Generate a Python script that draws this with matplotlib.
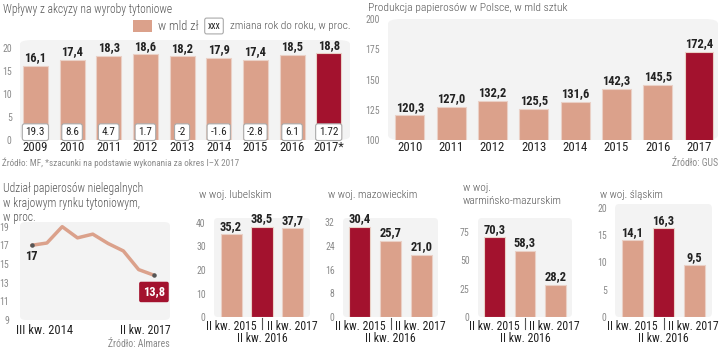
import matplotlib
matplotlib.use('Agg')
import matplotlib.pyplot as plt
from matplotlib.patches import FancyBboxPatch, Rectangle

# Data
tax_years = ['2009', '2010', '2011', '2012', '2013', '2014', '2015', '2016', '2017*']
tax_values = [16.1, 17.4, 18.3, 18.6, 18.2, 17.9, 17.4, 18.5, 18.8]
tax_change = ['19.3', '8.6', '4.7', '1.7', '-2', '-1.6', '-2.8', '6.1', '1.72']

prod_years = ['2010', '2011', '2012', '2013', '2014', '2015', '2016', '2017']
prod_values = [120.3, 127.0, 132.2, 125.5, 131.6, 142.3, 145.5, 172.4]

illegal_share = [17.0, 17.25, 19.0, 17.8, 18.2, 17.2, 16.4, 14.4, 13.8]
illegal_labels = ['III kw. 2014', 'II kw. 2017']

quarters = ['II kw. 2015', 'II kw. 2016', 'II kw. 2017']
lubelskie = [35.2, 38.5, 37.7]
mazowieckie = [30.4, 25.7, 21.0]
warm_maz = [70.3, 58.3, 28.2]
slaskie = [14.1, 16.3, 9.5]

SALMON = '#dba18b'
DARK = '#a3122e'
BG = '#f3f3f3'
TXT = '#222222'
GREY = '#8a8a8a'
TITLE = '#555555'

W, H = 720, 350
plt.rcParams['font.family'] = ['Roboto Condensed', 'DejaVu Sans']
fig = plt.figure(figsize=(7.2, 3.5), dpi=100)
renderer = fig.canvas.get_renderer()


def box(x0, y0, x1, y1):
    return [x0 / W, 1 - y1 / H, (x1 - x0) / W, (y1 - y0) / H]


def size_for(s, width, weight='normal', base=10.0):
    # font size that makes the widest line of s about `width` pixels wide
    t = fig.text(0, 0, s, fontsize=base, fontweight=weight)
    w = t.get_window_extent(renderer).width
    t.remove()
    return base * width / w


def ftext(x, y, s, width=None, **kw):
    if width is not None:
        kw['fontsize'] = size_for(s, width, kw.get('fontweight', 'normal'))
    fig.text(x / W, 1 - y / H, s, **kw)


def fmt(v):
    return f'{v:.1f}'.replace('.', ',')


def panel(ax):
    ax.patch.set_visible(False)
    for s in ax.spines.values():
        s.set_visible(False)
    bg = FancyBboxPatch((0, 0), 1, 1, boxstyle='round,pad=0,rounding_size=0.04',
                        transform=ax.transAxes, facecolor=BG, edgecolor='none',
                        zorder=0, clip_on=False)
    ax.add_patch(bg)
    ax.tick_params(axis='y', length=0, labelsize=7, labelcolor=GREY, pad=6)
    ax.tick_params(axis='x', length=0)


VAL = size_for('18,8', 22, 'bold')
YEAR = size_for('2009', 25)
QTR = size_for('II kw. 2015', 50)

# ---- top left: excise revenue
ax1 = fig.add_axes(box(20, 40, 350, 140))
panel(ax1)
colors = [SALMON] * (len(tax_values) - 1) + [DARK]
x = list(range(len(tax_values)))
ax1.bar(x, tax_values, width=0.68, color=colors, edgecolor='#ead0c6', linewidth=0.8, zorder=2)
ax1.set_xlim(-0.42, 8.58)
ax1.set_ylim(0, 21.7)
ax1.set_yticks([0, 5, 10, 15, 20])
ax1.set_xticks(x)
ax1.set_xticklabels(tax_years, fontsize=YEAR, color=TXT)
ax1.tick_params(axis='x', pad=1)
for i, v in enumerate(tax_values):
    ax1.text(i, v + 0.3, fmt(v), ha='center', va='bottom', fontsize=VAL,
             fontweight='bold', color=TXT, zorder=3)
    ax1.text(i, 1.7, tax_change[i], ha='center', va='center', fontsize=8, color=TXT, zorder=3,
             bbox=dict(boxstyle='round,pad=0.3,rounding_size=0.2', fc='white', ec='#aaaaaa', lw=0.8))

ftext(3, 9, 'Wpływy z akcyzy na wyroby tytoniowe', width=169, color=TITLE, va='center', fontweight='light')
fig.patches.append(Rectangle((133 / W, 1 - 32 / H), 19 / W, 12 / H, transform=fig.transFigure,
                             facecolor=SALMON, edgecolor='none'))
ftext(158, 26, 'w mld zł', fontsize=9, color=TITLE, va='center', fontweight='light')
ftext(214, 26, 'xxx', fontsize=7, color=TXT, va='center', ha='center',
      bbox=dict(boxstyle='round,pad=0.3,rounding_size=0.2', fc='white', ec='#aaaaaa', lw=0.8))
ftext(230, 26, 'zmiana rok do roku, w proc.', width=120, color=TITLE, va='center', fontweight='light')
ftext(2, 163, 'Źródło: MF, *szacunki na podstawie wykonania za okres I–X 2017',
      width=235, color=GREY, va='center')

# ---- top right: cigarette production
ax2 = fig.add_axes(box(388, 19, 718, 140))
panel(ax2)
colors = [SALMON] * (len(prod_values) - 1) + [DARK]
x = list(range(len(prod_values)))
ax2.bar(x, prod_values, width=0.7, color=colors, edgecolor='#ead0c6', linewidth=0.8, zorder=2)
ax2.set_xlim(-0.53, 7.46)
ax2.set_ylim(100, 200)
ax2.set_yticks([100, 125, 150, 175, 200])
ax2.set_xticks(x)
ax2.set_xticklabels(prod_years, fontsize=YEAR, color=TXT)
ax2.tick_params(axis='x', pad=1)
ax2.tick_params(axis='y', pad=6)
for i, v in enumerate(prod_values):
    ax2.text(i, v + 1.5, fmt(v), ha='center', va='bottom', fontsize=VAL,
             fontweight='bold', color=TXT, zorder=3)
ftext(368, 8, 'Produkcja papierosów w Polsce, w mld sztuk', width=199, color=TITLE,
      va='center', fontweight='light')
ftext(718, 163, 'Źródło: GUS', fontsize=7, color=GREY, va='center', ha='right')

# ---- bottom left: illegal share line
ax3 = fig.add_axes(box(20, 222, 170, 320))
panel(ax3)
xi = list(range(len(illegal_share)))
ax3.plot(xi, illegal_share, color=SALMON, lw=2.5, zorder=2, solid_capstyle='round')
ax3.scatter([xi[0], xi[-1]], [illegal_share[0], illegal_share[-1]], s=5, color='#555555', zorder=3)
ax3.set_xlim(-0.76, 9.05)
ax3.set_ylim(9, 19.5)
ax3.set_yticks([9, 11, 13, 15, 17, 19])
ax3.tick_params(axis='y', pad=8)
ax3.set_xticks([])
ax3.text(xi[0], illegal_share[0] - 0.5, '17', ha='center', va='top', fontsize=VAL,
         fontweight='bold', color=TXT, zorder=3)
ax3.text(xi[-1], illegal_share[-1] - 1.1, fmt(illegal_share[-1]), ha='center', va='top', fontsize=VAL,
         fontweight='bold', color='white', zorder=3,
         bbox=dict(boxstyle='round,pad=0.3,rounding_size=0.15', fc=DARK, ec='none'))
ftext(3, 182, 'Udział papierosów nielegalnych\nw krajowym rynku tytoniowym,\nw proc.',
      width=140, color=TITLE, va='top', linespacing=1.15, fontweight='light')
ftext(45, 331, illegal_labels[0], width=56, color=TXT, ha='center', va='center')
ftext(145, 331, illegal_labels[1], width=50, color=TXT, ha='center', va='center')
ftext(170, 344, 'Źródło: Almares', fontsize=7, color=GREY, ha='right', va='center')

# ---- bottom: four small regional panels
regions = [
    ('w woj. lubelskim', lubelskie, [0, 10, 20, 30, 40], 40, 223, (214, 310), 199, 195, 73),
    ('w woj. mazowieckim', mazowieckie, [0, 8, 16, 24, 32], 32, 222, (343, 438), 328, 195, 90),
    ('w woj.\nwarmińsko-mazurskim', warm_maz, [0, 25, 50, 75], 75, 232, (478, 572), 463, 183, 100),
    ('w woj. śląskim', slaskie, [0, 5, 10, 15, 20], 20, 208, (615, 712), 600, 195, 63),
]
for title, vals, ticks, top_tick, top_px, (xl, xr), tx, ty, tw in regions:
    zero_px = 317
    per = (zero_px - top_px) / top_tick
    top_bg = min(top_px - 4, 218)
    ax = fig.add_axes(box(xl, top_bg, xr, zero_px))
    panel(ax)
    hi = vals.index(max(vals))
    cols = [DARK if i == hi else SALMON for i in range(len(vals))]
    ax.bar(range(3), vals, width=0.68, color=cols, edgecolor='#ead0c6', linewidth=0.8, zorder=2)
    ax.set_xlim(-0.55, 2.55)
    ax.set_ylim(0, (zero_px - top_bg) / per)
    ax.set_yticks(ticks)
    ax.set_xticks([])
    for i, v in enumerate(vals):
        ax.text(i, v + 1.5 / per, fmt(v), ha='center', va='bottom', fontsize=VAL,
                fontweight='bold', color=TXT, zorder=3)
    ftext(tx, ty, title, width=tw, color=TITLE, va='center' if '\n' not in title else 'top',
          linespacing=1.35, fontweight='light')
    c0 = xl + (0 + 0.55) / 3.1 * (xr - xl)
    c1 = xl + (1 + 0.55) / 3.1 * (xr - xl)
    c2 = xl + (2 + 0.55) / 3.1 * (xr - xl)
    ftext(c0, 326, quarters[0], fontsize=QTR, color=TXT, ha='center', va='center')
    ftext(c2 - 1, 326, quarters[2], fontsize=QTR, color=TXT, ha='center', va='center')
    ftext(c1, 338, quarters[1], fontsize=QTR, color=TXT, ha='center', va='center')
    fig.lines.append(plt.Line2D([c1 / W, c1 / W], [1 - 318 / H, 1 - 329 / H],
                                transform=fig.transFigure, color='#555555', lw=0.8))

fig.savefig('out.png', dpi=100)
